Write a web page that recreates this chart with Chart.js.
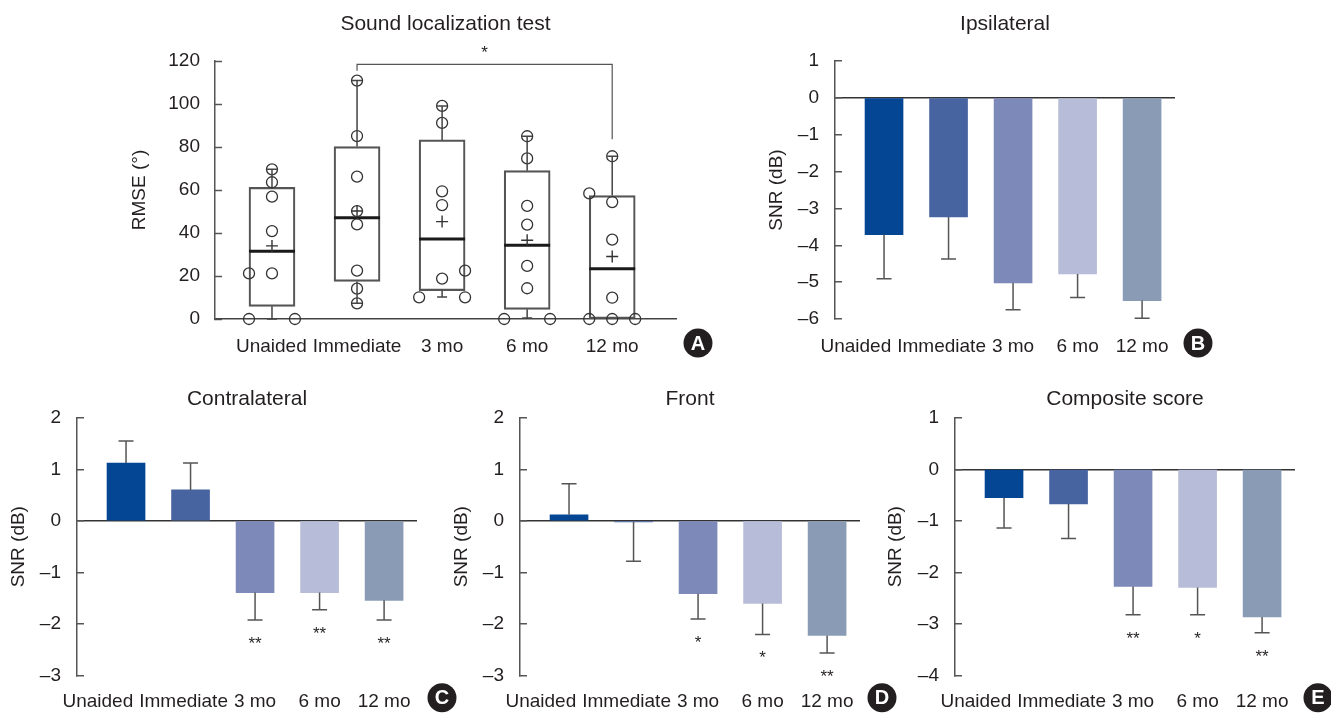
<!DOCTYPE html>
<html>
<head>
<meta charset="utf-8">
<script src="https://cdn.jsdelivr.net/npm/chart.js@4.4.1/dist/chart.umd.min.js"></script>
<style>
  body { margin: 0; background: #fff; }
  #wrap { position: relative; width: 1331px; height: 713px; overflow: hidden; }
  canvas { position: absolute; }
</style>
</head>
<body>
<div id="wrap">
  <canvas id="chartA" width="620" height="370" style="left:100px;top:0px"></canvas>
  <canvas id="chartB" width="480" height="370" style="left:740px;top:0px"></canvas>
  <canvas id="chartC" width="460" height="338" style="left:0px;top:375px"></canvas>
  <canvas id="chartD" width="460" height="338" style="left:445px;top:375px"></canvas>
  <canvas id="chartE" width="451" height="338" style="left:880px;top:375px"></canvas>
</div>
<script>
// ---- data ----
const categories = ['Unaided', 'Immediate', '3 mo', '6 mo', '12 mo'];
const barColors = ['#054694', '#4864a0', '#7d89b8', '#b7bcd8', '#8a9cb5'];

// A: sound localization RMSE (degrees), box plot
const boxQ1 = [5.9, 17.5, 13.2, 4.5, 0];
const boxQ3 = [61.2, 80.2, 83.3, 69.0, 57.4];
const boxMedian = [31.5, 47.1, 37.2, 34.3, 23.4];
const boxMean = [34.0, 50.2, 45.3, 36.6, 29.1];
const whiskerMin = [0, 7.3, 10.2, 0.5, 0];
const whiskerMax = [69.6, 110.9, 99.1, 85.0, 75.7];
const subjectScores = [
  [0, 0, 21.2, 21.2, 40.9, 56.9, 63.6, 69.6],
  [110.9, 85.1, 66.2, 50.2, 44.0, 22.5, 14.1, 7.3],
  [99.1, 91.2, 59.4, 53.0, 18.8, 22.5, 10.1, 10.1],
  [85.0, 74.7, 52.6, 43.9, 24.7, 14.3, 0, 0],
  [75.7, 58.4, 54.4, 36.9, 9.9, 0, 0, 0]
];
// which column of the dot plot each score sits in (-1 left, 0 middle, 1 right)
const scoreColumn = [
  [-1, 1, -1, 0, 0, 0, 0, 0],
  [0, 0, 0, 0, 0, 0, 0, 0],
  [0, 0, 0, 0, 0, 1, -1, 1],
  [0, 0, 0, 0, 0, 0, -1, 1],
  [0, -1, 0, 0, 0, -1, 0, 1]
];
const rmseTicks = [0, 120, 20];
const bracket = { from: 1, to: 4, top: 118.4, leftEnd: 115.5, rightEnd: 83.6, label: '*' };

// B-E: SNR (dB) mean and error bar end
const ipsiMean = [-3.71, -3.23, -5.02, -4.78, -5.50];
const ipsiErr = [-4.91, -4.37, -5.75, -5.42, -5.98];
const ipsiSig = ['', '', '', '', ''];
const contraMean = [1.12, 0.60, -1.39, -1.39, -1.54];
const contraErr = [1.55, 1.12, -1.92, -1.72, -1.92];
const contraSig = ['', '', '**', '**', '**'];
const frontMean = [0.12, -0.02, -1.41, -1.60, -2.22];
const frontErr = [0.72, -0.78, -1.90, -2.20, -2.56];
const frontSig = ['', '', '*', '*', '**'];
const compMean = [-0.55, -0.67, -2.27, -2.29, -2.86];
const compErr = [-1.14, -1.34, -2.82, -2.82, -3.17];
const compSig = ['', '', '**', '*', '**'];

// ---- style ----
const FONT = '"Liberation Sans", Arial, Helvetica, sans-serif';
const INK = '#231f20';
const AXIS = '#555';
const DOT_SPREAD = 0.27;

Chart.defaults.font.family = FONT;
Chart.defaults.color = INK;

function minusLabel(v) {
  return v < 0 ? '\u2013' + Math.abs(v) : String(v);
}

// keep category labels from running into each other (pushes them left)
const packLabels = {
  id: 'packLabels',
  afterLayout(chart) {
    const sc = chart.scales.x;
    const ctx = chart.ctx;
    ctx.save();
    ctx.font = '19px ' + FONT;
    let limit = Infinity;
    for (let i = sc.ticks.length - 1; i >= 0; i--) {
      const t = sc.ticks[i];
      const w = ctx.measureText(t.label).width;
      let c = sc.getPixelForValue(t.value);
      if (c + w / 2 > limit) c = limit - w / 2;
      limit = c - w / 2 - 6;
      t.value = sc.getValueForPixel(c);
    }
    ctx.restore();
  }
};

function badge(letter, dx, dy) {
  return {
    id: 'badge',
    afterDraw(chart) {
      const { ctx, chartArea } = chart;
      const cx = chartArea.right + dx, cy = chartArea.bottom + dy;
      ctx.save();
      ctx.fillStyle = INK;
      ctx.beginPath();
      ctx.arc(cx, cy, 14.5, 0, Math.PI * 2);
      ctx.fill();
      ctx.fillStyle = '#fff';
      ctx.font = 'bold 20px ' + FONT;
      ctx.textAlign = 'center';
      ctx.textBaseline = 'middle';
      ctx.fillText(letter, cx, cy + 1);
      ctx.restore();
    }
  };
}

function errorBars(means, ends, sig) {
  return {
    id: 'errorBars',
    afterDatasetsDraw(chart) {
      const { ctx, scales: { x, y } } = chart;
      ctx.save();
      ctx.strokeStyle = AXIS;
      ctx.lineWidth = 1.5;
      means.forEach((m, i) => {
        const px = x.getPixelForValue(i);
        const y0 = y.getPixelForValue(m);
        const y1 = y.getPixelForValue(ends[i]);
        ctx.beginPath();
        ctx.moveTo(px, y0);
        ctx.lineTo(px, y1);
        ctx.moveTo(px - 7.5, y1);
        ctx.lineTo(px + 7.5, y1);
        ctx.stroke();
        if (sig[i]) {
          ctx.fillStyle = INK;
          ctx.font = '17px ' + FONT;
          ctx.textAlign = 'center';
          ctx.textBaseline = 'alphabetic';
          ctx.fillText(sig[i], px, y1 + 29);
        }
      });
      ctx.restore();
    }
  };
}

const boxWhiskers = {
  id: 'boxWhiskers',
  afterDatasetsDraw(chart) {
    const { ctx, scales: { x, y } } = chart;
    ctx.save();
    ctx.strokeStyle = '#444';
    ctx.lineWidth = 1.5;
    categories.forEach((c, i) => {
      const px = x.getPixelForValue(i);
      [[boxQ3[i], whiskerMax[i]], [boxQ1[i], whiskerMin[i]]].forEach(([from, to]) => {
        if (from === to) return;
        const y0 = y.getPixelForValue(from), y1 = y.getPixelForValue(to);
        ctx.beginPath();
        ctx.moveTo(px, y0);
        ctx.lineTo(px, y1);
        ctx.moveTo(px - 5, y1);
        ctx.lineTo(px + 5, y1);
        ctx.stroke();
      });
    });
    // significance bracket
    const x1 = x.getPixelForValue(bracket.from), x2 = x.getPixelForValue(bracket.to);
    const yt = y.getPixelForValue(bracket.top);
    ctx.strokeStyle = AXIS;
    ctx.lineWidth = 1.2;
    ctx.beginPath();
    ctx.moveTo(x1, y.getPixelForValue(bracket.leftEnd));
    ctx.lineTo(x1, yt);
    ctx.lineTo(x2, yt);
    ctx.lineTo(x2, y.getPixelForValue(bracket.rightEnd));
    ctx.stroke();
    ctx.fillStyle = INK;
    ctx.font = '17px ' + FONT;
    ctx.textAlign = 'center';
    ctx.textBaseline = 'alphabetic';
    ctx.fillText(bracket.label, (x1 + x2) / 2, yt - 6);
    ctx.restore();
  }
};

function indexAxis(min, max, height, pad) {
  return {
    type: 'linear',
    offset: false,
    bounds: 'data',
    min: min,
    max: max,
    afterBuildTicks: s => { s.ticks = categories.map((c, i) => ({ value: i })); },
    afterFit: s => { s.height = height; },
    ticks: {
      callback: v => categories[v],
      autoSkip: false,
      maxRotation: 0,
      minRotation: 0,
      padding: pad,
      font: { size: 19 },
      color: INK
    },
    grid: { display: false, offset: false },
    border: { display: false }
  };
}

function titleOpts(text, padBottom) {
  return {
    display: true,
    text: text,
    fullSize: false,
    font: { size: 21, weight: 'normal' },
    color: INK,
    padding: { top: 11.4, bottom: padBottom }
  };
}

// ---- A: box plot ----
const dotData = [];
subjectScores.forEach((scores, i) => {
  scores.forEach((v, k) => dotData.push({ x: i + scoreColumn[i][k] * DOT_SPREAD, y: v }));
});

const xA = indexAxis(-0.67, 4.75, 51, 8.6);
xA.border = { display: true, color: '#444', width: 1.5 };

new Chart(document.getElementById('chartA'), {
  type: 'bar',
  data: {
    datasets: [
      {
        type: 'scatter',
        data: dotData,
        pointStyle: 'circle',
        pointRadius: 5.5,
        pointBorderWidth: 1.3,
        pointBorderColor: '#333',
        pointBackgroundColor: 'rgba(0,0,0,0)',
        clip: false
      },
      {
        type: 'scatter',
        data: boxMean.map((v, i) => ({ x: i, y: v })),
        pointStyle: 'cross',
        pointRadius: 6,
        pointBorderWidth: 1.4,
        pointBorderColor: '#333',
        clip: false
      },
      {
        type: 'scatter',
        data: boxMedian.map((v, i) => ({ x: i, y: v })),
        pointStyle: 'line',
        pointRadius: 23,
        pointBorderWidth: 3,
        pointBorderColor: '#1a1a1a',
        clip: false
      },
      {
        type: 'bar',
        data: boxQ1.map((q, i) => ({ x: i, y: [q, boxQ3[i]] })),
        barThickness: 46,
        backgroundColor: 'rgba(0,0,0,0)',
        borderColor: AXIS,
        borderWidth: 1.5,
        borderSkipped: false
      }
    ]
  },
  options: {
    responsive: false,
    animation: false,
    events: [],
    layout: { padding: { right: 44 } },
    plugins: {
      legend: { display: false },
      tooltip: { enabled: false },
      title: titleOpts('Sound localization test', 24.4)
    },
    scales: {
      x: xA,
      y: {
        min: rmseTicks[0],
        max: rmseTicks[1],
        afterFit: s => { s.width = 115; },
        ticks: { stepSize: rmseTicks[2], padding: 22, font: { size: 19 }, color: INK },
        grid: { drawOnChartArea: false, tickLength: -7, tickColor: AXIS, tickWidth: 1.5 },
        border: { color: AXIS, width: 1.5 },
        title: { display: true, text: 'RMSE (\u00b0)', font: { size: 19 }, color: INK, padding: { top: 28.6, bottom: 0 } }
      }
    }
  },
  plugins: [boxWhiskers, packLabels, badge('A', 22, 24)]
});

// ---- B-E: bar panels ----
function barPanel(id, cfg) {
  return new Chart(document.getElementById(id), {
    type: 'bar',
    data: {
      datasets: [{
        data: cfg.means.map((v, i) => ({ x: i, y: v })),
        backgroundColor: barColors,
        borderWidth: 0,
        barThickness: 38
      }]
    },
    options: {
      responsive: false,
      animation: false,
      events: [],
      layout: { padding: { right: cfg.padRight } },
      plugins: {
        legend: { display: false },
        tooltip: { enabled: false },
        title: titleOpts(cfg.title, cfg.titleBottom)
      },
      scales: {
        x: indexAxis(-0.76, 4.51, cfg.xHeight, cfg.labelPad),
        y: {
          min: cfg.yRange[0],
          max: cfg.yRange[1],
          afterFit: s => { s.width = cfg.yWidth; },
          ticks: { stepSize: 1, padding: 23, font: { size: 19 }, color: INK, callback: minusLabel },
          grid: {
            color: c => (c.tick && c.tick.value === 0 ? '#333' : 'rgba(0,0,0,0)'),
            lineWidth: 1.5,
            tickLength: -7,
            tickColor: AXIS,
            tickWidth: 1.5
          },
          border: { color: AXIS, width: 1.5 },
          title: { display: true, text: 'SNR (dB)', font: { size: 19 }, color: INK, padding: { top: cfg.yTitlePad, bottom: 0 } }
        }
      }
    },
    plugins: [errorBars(cfg.means, cfg.ends, cfg.sig), packLabels, badge(cfg.letter, cfg.badgeDx, cfg.badgeDy)]
  });
}

barPanel('chartB', {
  title: 'Ipsilateral', letter: 'B', means: ipsiMean, ends: ipsiErr, sig: ipsiSig,
  yRange: [-6, 1], yWidth: 95, yTitlePad: 25.6, padRight: 45,
  titleBottom: 24.4, xHeight: 51, labelPad: 8.6, badgeDx: 23, badgeDy: 24
});
barPanel('chartC', {
  title: 'Contralateral', letter: 'C', means: contraMean, ends: contraErr, sig: contraSig,
  yRange: [-3, 2], yWidth: 77, yTitlePad: 7.6, padRight: 43,
  titleBottom: 6.1, xHeight: 37.3, labelPad: 7, badgeDx: 25, badgeDy: 22
});
barPanel('chartD', {
  title: 'Front', letter: 'D', means: frontMean, ends: frontErr, sig: frontSig,
  yRange: [-3, 2], yWidth: 75, yTitlePad: 5.6, padRight: 45,
  titleBottom: 6.1, xHeight: 37.3, labelPad: 7, badgeDx: 22, badgeDy: 22
});
barPanel('chartE', {
  title: 'Composite score', letter: 'E', means: compMean, ends: compErr, sig: compSig,
  yRange: [-4, 1], yWidth: 75, yTitlePad: 4.6, padRight: 36,
  titleBottom: 6.1, xHeight: 37.3, labelPad: 7, badgeDx: 23, badgeDy: 22
});
</script>
</body>
</html>
